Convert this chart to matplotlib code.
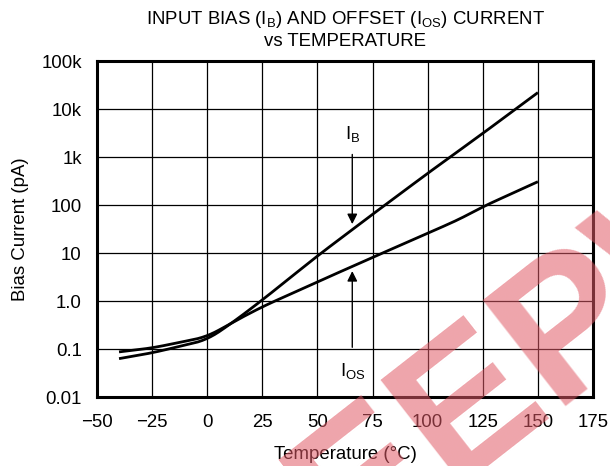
import numpy as np
import matplotlib
matplotlib.use('Agg')
import matplotlib.pyplot as plt
from matplotlib.ticker import FixedLocator, NullLocator

plt.rcParams['font.family'] = ['Liberation Sans', 'DejaVu Sans']

# values (pA)
temp_ib = [-40, -25, 0, 12, 25, 50, 75, 100, 125, 150]
ib = [0.063, 0.083, 0.155, 0.37, 1.05, 8.7, 64, 457, 3100, 22000]

temp_ios = [-40, -25, 0, 12, 25, 50, 75, 100, 115, 125, 150]
ios = [0.087, 0.105, 0.18, 0.37, 0.76, 2.5, 8.1, 25.7, 52, 92, 306]

x_ticks = [-50, -25, 0, 25, 50, 75, 100, 125, 150, 175]
x_labels = ['\u221250', '\u221225', '0', '25', '50', '75', '100', '125', '150', '175']
y_ticks = [0.01, 0.1, 1, 10, 100, 1e3, 1e4, 1e5]
y_labels = ['0.01', '0.1', '1.0', '10', '100', '1k', '10k', '100k']

FS = 13.4


def smooth(t, v, n=400, w=25):
    # interpolate in log space, then a light moving average that keeps the ends straight
    tt = np.linspace(t[0], t[-1], n)
    lv = np.interp(tt, t, np.log10(v))
    h = w // 2
    left = lv[0] - (lv[1] - lv[0]) * np.arange(h, 0, -1)
    right = lv[-1] + (lv[-1] - lv[-2]) * np.arange(1, h + 1)
    pad = np.concatenate([left, lv, right])
    lv = np.convolve(pad, np.ones(w) / w, mode='valid')
    return tt, 10 ** lv


fig = plt.figure(figsize=(6.10, 4.66), dpi=100)
ax = fig.add_axes([97 / 610, 1 - 397 / 466, (593 - 97) / 610, (397 - 61) / 466])

ax.set_yscale('log')
ax.set_xlim(-50, 175)
ax.set_ylim(0.01, 1e5)

t1, v1 = smooth(temp_ib, ib)
t2, v2 = smooth(temp_ios, ios)
ax.plot(t1, v1, color='black', lw=2.0, zorder=3, solid_capstyle='butt')
ax.plot(t2, v2, color='black', lw=2.0, zorder=3, solid_capstyle='butt')

ax.xaxis.set_major_locator(FixedLocator(x_ticks))
ax.set_xticklabels(x_labels)
ax.yaxis.set_major_locator(FixedLocator(y_ticks))
ax.yaxis.set_minor_locator(NullLocator())
ax.set_yticklabels(y_labels)
ax.tick_params(length=0, labelsize=FS, colors='black')
ax.tick_params(axis='x', pad=12)
ax.tick_params(axis='y', pad=11)
ax.grid(True, color='black', lw=0.9)
for s in ax.spines.values():
    s.set_linewidth(2.2)

ax.set_xlabel('Temperature (\u00b0C)', fontsize=FS, labelpad=11)
ax.set_ylabel('Bias Current (pA)', fontsize=FS, labelpad=9)
ax.set_title('INPUT BIAS (I$_\\mathregular{B}$) AND OFFSET (I$_\\mathregular{OS}$) CURRENT\nvs TEMPERATURE',
             fontsize=FS, pad=11, linespacing=1.22)

# arrows and labels
ax.annotate('', xy=(65.8, 35), xytext=(65.8, 1290),
            arrowprops=dict(arrowstyle='-|>', color='black', lw=1.0, mutation_scale=15))
ax.text(65.8, 2900, 'I$_\\mathregular{B}$', ha='center', va='center', fontsize=FS)
ax.annotate('', xy=(65.8, 4.8), xytext=(65.8, 0.095),
            arrowprops=dict(arrowstyle='-|>', color='black', lw=1.0, mutation_scale=15))
ax.text(66, 0.034, 'I$_\\mathregular{OS}$', ha='center', va='center', fontsize=FS)

# watermark
fig.text(0.89, 0.25, 'EEPW', fontsize=140, fontweight='bold', color='#e05a66',
         alpha=0.55, rotation=38, ha='center', va='center', zorder=10)

fig.savefig('out.png', dpi=100)
